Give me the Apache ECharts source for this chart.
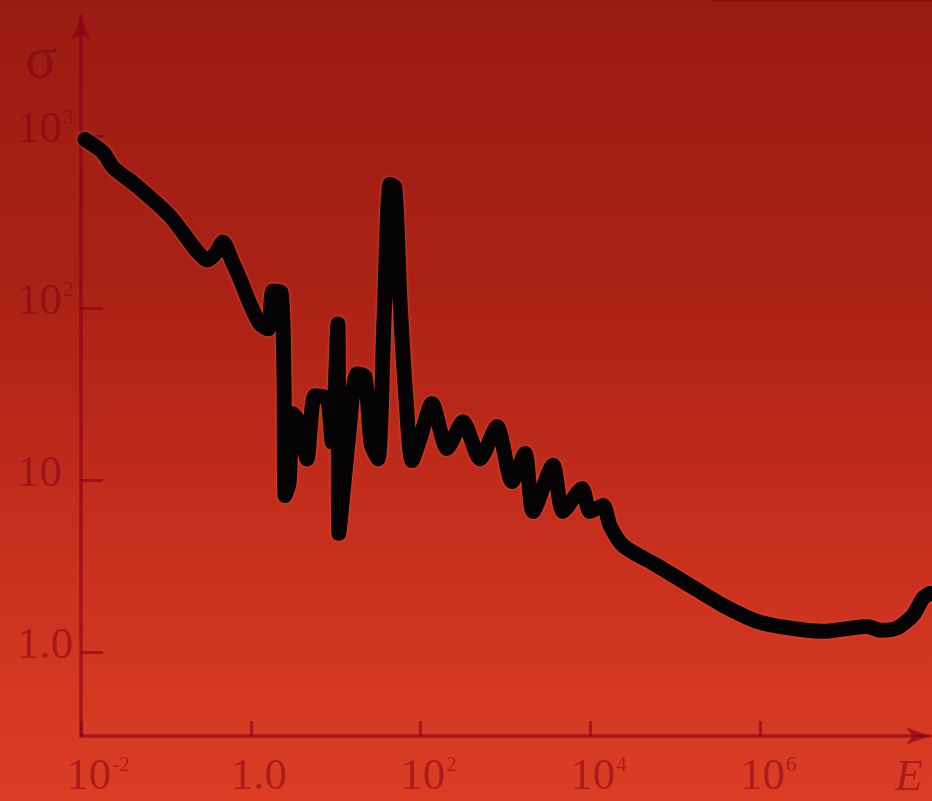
<!DOCTYPE html>
<html>
<head>
<meta charset="utf-8">
<script src="https://cdn.jsdelivr.net/npm/echarts@6/dist/echarts.min.js"></script>
<style>
  html, body { margin: 0; padding: 0; }
  #chart { width: 932px; height: 801px; }
</style>
</head>
<body>
<div id="chart"></div>
<script>
// energy E and cross section sigma (log-log)
const energy = [
  0.0111, 0.0182, 0.0238, 0.0457, 0.112, 0.232, 0.305, 0.379, 0.471, 0.601,
  0.746, 0.979, 1.28, 1.60, 1.82, 2.27, 2.46, 2.53, 2.82, 3.14,
  3.80, 4.59, 5.70, 7.90, 9.04, 10.6, 10.9, 14.0, 17.8, 22.1,
  26.1, 31.5, 37.1, 43.6, 49.9, 57.1, 67.3, 79.2, 98.4, 136,
  205, 316, 501, 794, 1194, 1698, 2109, 3623, 4753, 7962,
  9886, 1.41e4, 1.70e4, 2.42e4, 6.08e4, 1.49e5, 3.65e5, 9.17e5, 2.24e6, 5.49e6,
  1.81e7, 2.58e7, 4.08e7, 6.31e7, 8.28e7, 1.0e8
];
const sigma = [
  961, 807, 661, 513, 343, 215, 191, 207, 243, 188,
  148, 106, 81.1, 75.9, 126, 124, 38.9, 8.14, 9.55, 24.4,
  21.3, 13.3, 31.0, 29.8, 16.7, 81.1, 4.90, 16.7, 41.6, 39.9,
  16.3, 13.3, 86.7, 527, 506, 113, 29.8, 13.0, 17.4, 27.9,
  15.3, 21.9, 13.3, 20.5, 9.82, 14.3, 6.58, 12.2, 6.58, 8.94,
  6.58, 7.13, 5.45, 4.17, 3.19, 2.44, 1.87, 1.51, 1.38, 1.32,
  1.41, 1.34, 1.38, 1.64, 2.06, 2.20
];

const xTickExp = [-2, 0, 2, 4, 6];
const xTickLabels = ['{bl|10}{s|-2}', '{b|1.0}', '{b|10}{s|2}', '{b|10}{s|4}', '{b|10}{s|6}'];
const yTickExp = [0, 1, 2, 3];
const yTickLabels = ['{b|1.0}', '{b|10}', '{b|10}{s|2}', '{b|10}{s|3}'];

const axisColor = 'rgba(135, 0, 28, 0.62)';
const textColor = 'rgba(125, 0, 25, 0.52)';
const serif = '"Liberation Serif", "DejaVu Serif", serif';

function pickLabel(value, exps, labels) {
  const l = Math.log10(value);
  const e = Math.round(l);
  if (Math.abs(l - e) > 1e-6) return '';
  const i = exps.indexOf(e);
  return i < 0 ? '' : labels[i];
}

const chart = echarts.init(document.getElementById('chart'));

const option = {
  backgroundColor: {
    type: 'linear', x: 0, y: 0, x2: 0, y2: 1,
    colorStops: [
      { offset: 0, color: '#9b1b12' },
      { offset: 0.35, color: '#a92115' },
      { offset: 0.7, color: '#c9301e' },
      { offset: 1, color: '#dc3e24' }
    ]
  },
  animation: false,
  grid: { left: 81, right: 2, top: 16, bottom: 63 },
  graphic: [
    { type: 'rect', shape: { x: 713, y: 0, width: 219, height: 2 }, style: { fill: '#8c0f0c' } }
  ],
  xAxis: {
    type: 'log',
    logBase: 10,
    min: 0.01,
    max: 1e8,
    interval: 2,
    name: 'E',
    nameLocation: 'end',
    nameGap: -21,
    nameTextStyle: {
      fontFamily: serif, fontStyle: 'italic', fontSize: 45, color: textColor,
      align: 'center', verticalAlign: 'top', padding: [20, 0, 0, 0]
    },
    splitLine: { show: false },
    axisLine: {
      lineStyle: { color: axisColor, width: 3.5 },
      symbol: ['none', 'arrow'], symbolSize: [13, 24], symbolOffset: [0, 0]
    },
    axisTick: { inside: true, length: 15, lineStyle: { color: axisColor, width: 3 } },
    axisLabel: {
      margin: 19,
      showMinLabel: true,
      showMaxLabel: false,
      formatter: v => pickLabel(v, xTickExp, xTickLabels),
      rich: {
        b: { fontFamily: serif, fontSize: 45, lineHeight: 45, color: textColor, padding: [0, 0, 0, 16] },
        bl: { fontFamily: serif, fontSize: 45, lineHeight: 45, color: textColor, padding: [0, 0, 0, 34] },
        s: { fontFamily: serif, fontSize: 21, lineHeight: 45, color: textColor, verticalAlign: 'top', padding: [0, 0, 0, 1] }
      }
    }
  },
  yAxis: {
    type: 'log',
    logBase: 10,
    min: 0.325,
    max: 5012,
    name: 'σ',
    nameLocation: 'end',
    nameGap: -45,
    nameTextStyle: {
      fontFamily: serif, fontSize: 60, color: textColor,
      align: 'right', verticalAlign: 'middle', padding: [0, 24, 0, 0]
    },
    splitLine: { show: false },
    axisLine: {
      lineStyle: { color: axisColor, width: 3.5 },
      symbol: ['none', 'arrow'], symbolSize: [14, 24], symbolOffset: [0, 0]
    },
    axisTick: { inside: true, length: 22, lineStyle: { color: axisColor, width: 3 } },
    axisLabel: {
      margin: 64,
      align: 'left',
      padding: [0, 0, 12, 0],
      showMinLabel: false,
      showMaxLabel: false,
      formatter: v => pickLabel(v, yTickExp, yTickLabels),
      rich: {
        b: { fontFamily: serif, fontSize: 45, lineHeight: 45, color: textColor },
        s: { fontFamily: serif, fontSize: 21, lineHeight: 45, color: textColor, verticalAlign: 'top', padding: [0, 0, 0, 1] }
      }
    }
  },
  series: [
    {
      type: 'line',
      data: energy.map((e, i) => [e, sigma[i]]),
      showSymbol: false,
      smooth: 0.25,
      lineStyle: {
        color: '#050303',
        width: 15,
        cap: 'round',
        join: 'round',
        shadowColor: 'rgba(255, 90, 60, 0.9)',
        shadowBlur: 3
      }
    }
  ]
};

chart.setOption(option);
</script>
</body>
</html>
